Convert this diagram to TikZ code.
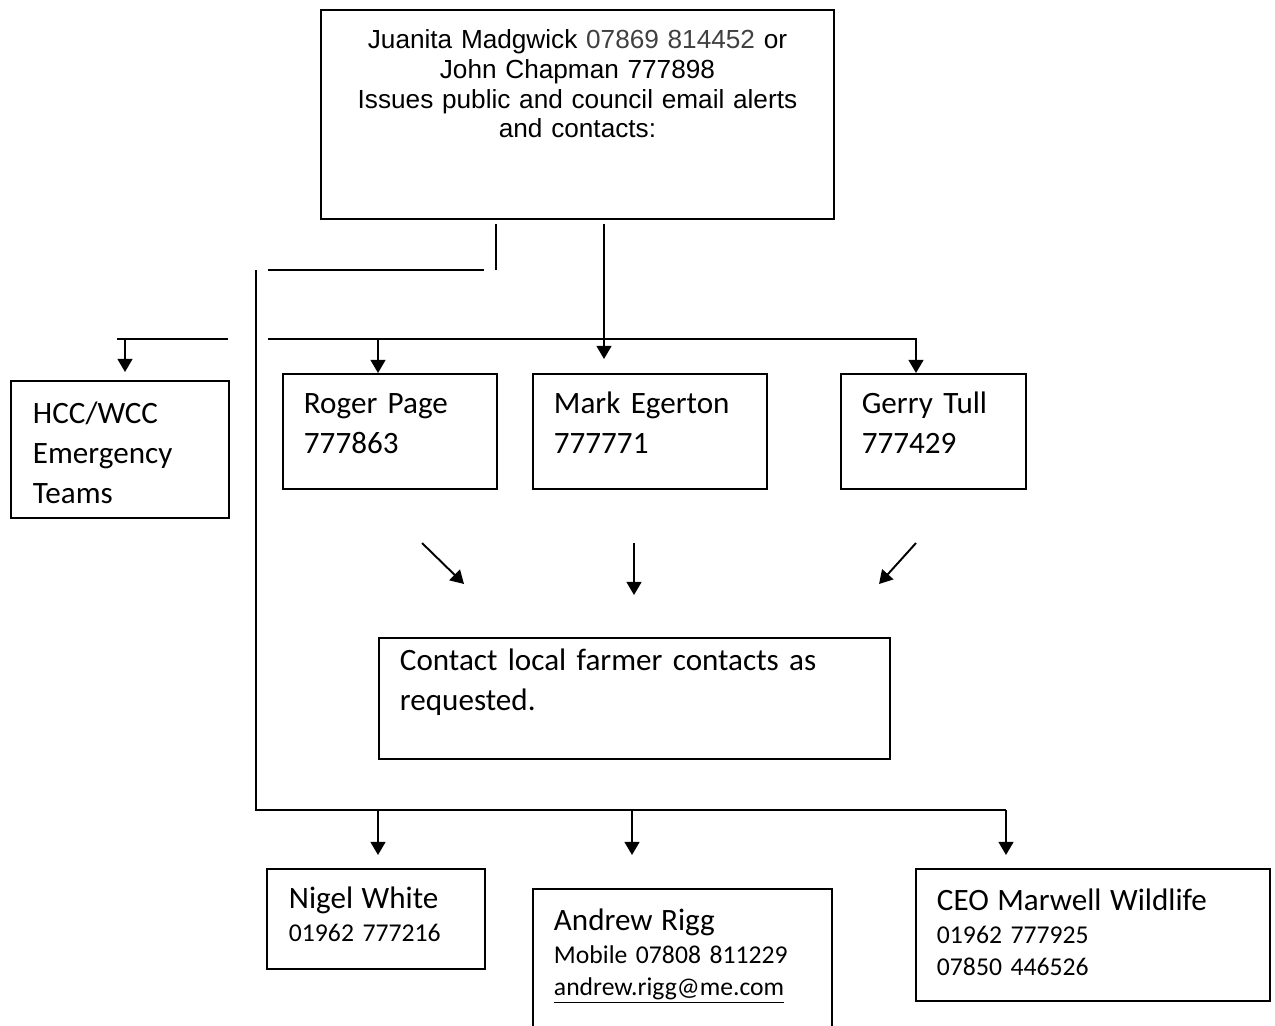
\documentclass[tikz,border=0pt]{standalone}
\usepackage{fontspec}
\setmainfont{Carlito}
\newfontfamily\arialfont{Liberation Sans}
\usetikzlibrary{arrows.meta,positioning}
\newcommand{\bigtxt}{\fontsize{17.7}{22.7}\selectfont}
\newcommand{\smalltxt}{\fontsize{14.6}{18.3}\selectfont}
\newcommand{\toptxt}{\arialfont\fontsize{14.9}{16.8}\selectfont}

\begin{document}
\begin{tikzpicture}[->,>={Triangle[length=7.5pt,width=8.5pt]},line width=1.1pt]
                \tikzstyle{every node}=[inner ysep=0pt]
                \tikzstyle{person}=[draw,rectangle,inner xsep=0.42cm,align=left,font=\bigtxt,anchor=north west,text height=0.8cm,text depth=1.5cm]
                \tikzstyle{bottombox}=[person,font=\smalltxt,text height=0.84cm]
                \tikzstyle{plain}=[-]

                \useasboundingbox (0,0) rectangle (25.5,-20.5);

                \node[draw,rectangle,anchor=north west,inner xsep=0.2cm,align=center,font=\toptxt,text width=9.86cm,text height=0.78cm,text depth=3.4cm] at (6.4,-0.18) (alert)
                    {Juanita Madgwick \textcolor{black!75}{07869 814452} or\\John Chapman 777898\\Issues public and council email alerts\\and contacts:};

                \node[person,inner xsep=0.44cm,text width=3.48cm,text height=0.86cm,text depth=1.88cm] at (0.2,-7.6) (hcc) {HCC/WCC\\Emergency\\Teams};
                \node[person,text width=3.44cm] at (5.64,-7.46) (roger) {Roger Page\\777863};
                \node[person,text width=3.84cm,anchor=west] (mark) [right=0.68cm of roger] {Mark Egerton\\777771};
                \node[person,text width=2.86cm,anchor=west] (gerry) [right=1.44cm of mark] {Gerry Tull\\777429};

                \node[person,text width=9.38cm,text height=0.66cm,text depth=1.76cm] at (7.56,-12.74) (farm) {Contact local farmer contacts as\\requested.};

                \node[bottombox,inner xsep=0.44cm,text width=3.48cm,text height=0.8cm,text depth=1.2cm] at (5.32,-17.36) (nigel) {{\bigtxt Nigel White}\\01962 777216};
                \node[bottombox,text width=5.14cm,text depth=3cm] at (10.64,-17.76) (andrew) {{\bigtxt Andrew Rigg}\\Mobile 07808 811229\\\underline{andrew.rigg@me.com}};
                \node[bottombox,text width=6.24cm,text depth=1.8cm] at (18.3,-17.36) (ceo) {{\bigtxt CEO Marwell Wildlife}\\01962 777925\\07850 446526};

                % junctions
                \coordinate (drop) at (9.92,-5.4);
                \coordinate (stubL) at (5.36,-5.4);
                \coordinate (stubR) at (9.68,-5.4);
                \coordinate (spineTop) at (5.12,-5.4);
                \coordinate (spineBot) at (5.12,-16.2);
                \coordinate (rowL) at (5.36,-6.78);
                \coordinate (rowR) at (18.32,-6.78);
                \coordinate (rowRoger) at (7.56,-6.78);
                \coordinate (rowMark) at (12.08,-6.78);
                \coordinate (hccL) at (2.34,-6.78);
                \coordinate (hccR) at (4.56,-6.78);
                \coordinate (hccA) at (2.5,-6.78);
                \coordinate (botNigel) at (7.56,-16.2);
                \coordinate (botAndrew) at (12.64,-16.2);
                \coordinate (botCeo) at (20.12,-16.2);
                \coordinate (diagLs) at (8.44,-10.86);
                \coordinate (diagLe) at (9.28,-11.68);
                \coordinate (diagMs) at (12.68,-10.86);
                \coordinate (diagMe) at (12.68,-11.9);
                \coordinate (diagRs) at (18.32,-10.86);
                \coordinate (diagRe) at (17.58,-11.68);

                \draw[plain] ([yshift=-0.08cm]alert.south -| drop) -- (drop);
                \draw[plain] (stubL) -- (stubR);
                \draw[plain] (spineTop) -- (spineBot) -- (botCeo);

                \draw ([yshift=-0.08cm]alert.south -| rowMark) -- ([yshift=0.28cm]mark.north -| rowMark);
                \draw (rowL) -- (rowR) -- (rowR |- gerry.north);
                \draw (rowRoger) -- (rowRoger |- roger.north);
                \draw[plain] (hccL) -- (hccR);
                \draw (hccA) -- ([yshift=0.16cm]hccA |- hcc.north);

                \draw (diagLs) -- (diagLe);
                \draw (diagMs) -- (diagMe);
                \draw (diagRs) -- (diagRe);

                \draw (botNigel) -- ([yshift=0.26cm]botNigel |- nigel.north);
                \draw (botAndrew) -- ([yshift=0.26cm]botAndrew |- nigel.north);
                \draw (botCeo) -- ([yshift=0.26cm]botCeo |- ceo.north);
\end{tikzpicture}
\end{document}
